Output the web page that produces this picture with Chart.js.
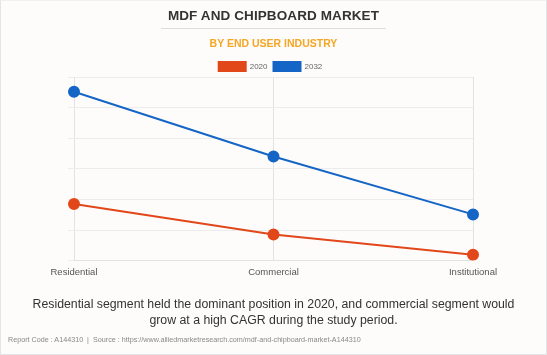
<!DOCTYPE html>
<html>
<head>
<meta charset="utf-8">
<script src="https://cdn.jsdelivr.net/npm/chart.js@4.4.0/dist/chart.umd.min.js"></script>
<style>
  html, body { margin: 0; padding: 0; }
  body { width: 547px; height: 355px; background: #fdfcfb; position: relative; overflow: hidden; font-family: "Liberation Sans", Arial, sans-serif; }
  #frame { position: absolute; left: 0; top: 0; width: 545px; height: 353px; border: 1px solid #e4e4e4; border-top-color: #f0f0f0; }
  #wrap { position: absolute; left: 0; top: 0; width: 547px; height: 355px; }
  .t { position: absolute; left: 0; width: 547px; text-align: center; white-space: nowrap; }
  #title { top: 8px; font-size: 13.5px; font-weight: bold; color: #333; letter-spacing: 0.1px; }
  #rule { position: absolute; top: 28px; left: 161px; width: 225px; height: 1px; background: #dcdcdc; }
  #sub { top: 37px; font-size: 10.5px; font-weight: bold; color: #f5a623; }
  #cap { top: 297px; font-size: 12.3px; color: #333; line-height: 15.5px; }
  #foot { top: 335px; left: 8px; width: auto; text-align: left; font-size: 7.2px; color: #888; }
</style>
</head>
<body>
<div id="frame"></div>
<div id="wrap"><canvas id="c" width="547" height="355"></canvas></div>
<div class="t" id="title">MDF AND CHIPBOARD MARKET</div>
<div id="rule"></div>
<div class="t" id="sub">BY END USER INDUSTRY</div>
<div class="t" id="cap">Residential segment held the dominant position in 2020, and commercial segment would<br>grow at a high CAGR during the study period.</div>
<div class="t" id="foot">Report Code : A144310 &nbsp;|&nbsp; Source : https://www.alliedmarketresearch.com/mdf-and-chipboard-market-A144310</div>
<script>
const categories = ["Residential", "Commercial", "Institutional"];
const series2020 = [18.5, 8.5, 1.9];
const series2032 = [55.2, 34.0, 15.1];
const seriesNames = ["2020", "2032"];

const orange = "#e2471a";
const blue = "#1565c6";

const legendFix = {
  id: "legendFix",
  beforeLayout(chart) {
    const lg = chart.legend;
    if (lg && !lg._patched) {
      const f = lg.fit;
      lg.fit = function () { f.call(this); this.height = 21; };
      lg._patched = true;
    }
  }
};

new Chart(document.getElementById("c"), {
  type: "line",
  data: {
    labels: categories,
    datasets: [
      { label: seriesNames[0], data: series2020, borderColor: orange, backgroundColor: orange,
        pointBackgroundColor: orange, pointBorderColor: orange, borderWidth: 2, pointRadius: 5, tension: 0 },
      { label: seriesNames[1], data: series2032, borderColor: blue, backgroundColor: blue,
        pointBackgroundColor: blue, pointBorderColor: blue, borderWidth: 2, pointRadius: 5, tension: 0 }
    ]
  },
  plugins: [legendFix],
  options: {
    responsive: false,
    animation: false,
    devicePixelRatio: 1,
    layout: { padding: { top: 56, left: 68, right: 74, bottom: 71 } },
    plugins: {
      legend: {
        position: "top",
        labels: { boxWidth: 27, boxHeight: 9, padding: 6, color: "#666",
          font: { family: "Liberation Sans", size: 8 } }
      },
      tooltip: { enabled: false }
    },
    scales: {
      x: {
        offset: false,
        grid: { color: "#e2e2e2", drawTicks: false },
        border: { color: "#e2e2e2" },
        ticks: { color: "#555", padding: 6, font: { family: "Liberation Sans", size: 9.5 } }
      },
      y: {
        min: 0, max: 60,
        ticks: { display: false, stepSize: 10 },
        grid: { color: "#ececec", tickLength: 6 },
        border: { display: false }
      }
    }
  }
});
</script>
</body>
</html>
